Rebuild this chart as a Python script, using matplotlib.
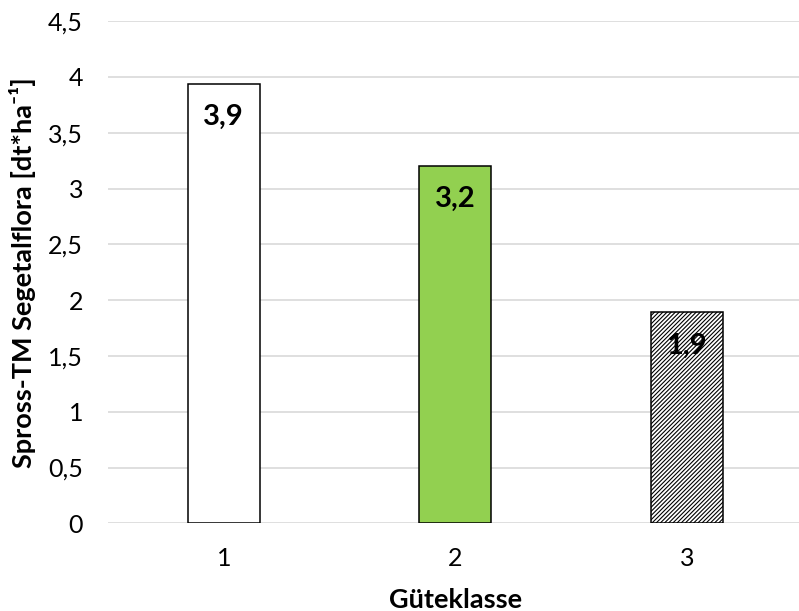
import matplotlib
matplotlib.use("Agg")
import matplotlib.pyplot as plt

plt.rcParams['font.family'] = ['Lato', 'DejaVu Sans']
plt.rcParams['hatch.linewidth'] = 0.8

# Data
categories = ["1", "2", "3"]
values = [3.94, 3.20, 1.89]
fills = ["#FFFFFF", "#92D050", "#FFFFFF"]
hatches = ["", "", "////////"]
y_ticks = [0, 0.5, 1, 1.5, 2, 2.5, 3, 3.5, 4, 4.5]

fig = plt.figure(figsize=(7.99, 6.11), dpi=100)
ax = fig.add_axes([0.1352, 0.1435, 0.8692, 0.8218])

x = range(len(categories))
bars = ax.bar(x, values, width=0.31, color=fills, edgecolor="black",
              linewidth=1.1, zorder=3)
for b, h in zip(bars, hatches):
    b.set_hatch(h)


def de(v):
    return f"{v:g}".replace(".", ",")


for b, v in zip(bars, values):
    ax.annotate(f"{v:.1f}".replace(".", ","),
                xy=(b.get_x() + b.get_width() / 2, v),
                xytext=(0, -33), textcoords="offset pixels",
                ha="center", va="center", fontsize=21, fontweight="bold",
                color="black", zorder=4)

ax.set_xlim(-0.5, len(categories) - 0.5)
ax.set_ylim(0, 4.5)
ax.set_yticks(y_ticks)
ax.set_yticklabels([de(t) for t in y_ticks], fontsize=18)
ax.set_xticks(list(x))
ax.set_xticklabels(categories, fontsize=18)

ax.grid(axis="y", color="#D9D9D9", linewidth=1.2, zorder=0)
ax.tick_params(axis="y", length=0, pad=18, colors="black")
ax.tick_params(axis="x", length=0, pad=17, colors="black")
for s in ax.spines.values():
    s.set_visible(False)

ax.set_xlabel("Güteklasse", fontsize=19.5, fontweight="bold", labelpad=13)
ax.set_ylabel("Spross-TM Segetalflora [dt*ha\u207b\u00b9]", fontsize=19.5,
              fontweight="bold", labelpad=9)

fig.savefig("out.png", dpi=100)
